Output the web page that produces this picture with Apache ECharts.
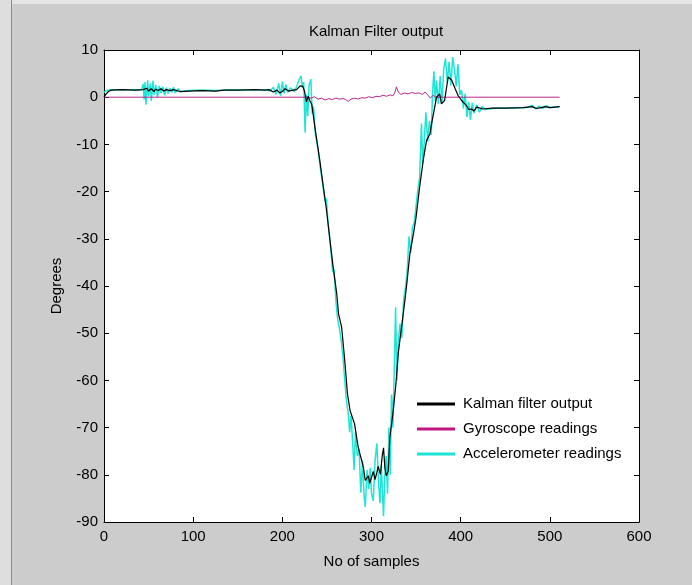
<!DOCTYPE html>
<html>
<head>
<meta charset="utf-8">
<title>Kalman Filter output</title>
<script src="https://cdn.jsdelivr.net/npm/echarts@6/dist/echarts.min.js"></script>
<style>
  html, body { margin: 0; padding: 0; background: #cccccc; }
  #chart { width: 692px; height: 585px; }
</style>
</head>
<body>
<div id="chart"></div>
<script>
// Sample indices and angle readings (degrees) for each trace
const kalmanX = [0, 2, 5, 8, 20, 35, 44, 46, 48, 50, 53, 56, 58, 61, 64, 67, 70, 74, 78, 85, 95, 110, 125, 135, 150, 170, 180, 185, 190, 194, 197, 200, 203, 207, 212, 216, 220, 223, 225, 227, 229, 231, 233, 236.5, 242, 246, 249.6, 253.4, 257, 261, 263, 266.5, 270, 273, 276, 277.5, 281, 285, 289, 291, 293, 295, 296.5, 298, 300, 302, 304, 306, 307.5, 310, 312, 313.5, 315, 316.5, 318.8, 320.6, 324.4, 327.4, 330, 333.7, 337.5, 340, 343, 347, 350, 354, 358, 361.7, 365.5, 368, 370, 373, 376.5, 378.4, 382, 386, 388, 390, 393.6, 397, 401, 406.6, 409, 412, 415, 418, 425, 435, 450, 470, 480, 485, 490, 495, 500, 511];
const kalmanY = [0.0, 0.6, 1.2, 1.5, 1.6, 1.5, 1.6, 1.2, 1.9, 1.3, 1.8, 1.2, 1.7, 1.4, 1.8, 1.3, 1.6, 1.4, 1.6, 1.2, 1.3, 1.4, 1.3, 1.5, 1.5, 1.6, 1.5, 1.6, 1.1, 1.5, 0.9, 1.2, 1.8, 1.3, 1.5, 1.6, 2.4, 2.3, 1.2, -1.0, 0.2, -0.8, -1.5, -6.3, -13.4, -19, -24, -30.3, -36, -41.6, -45.9, -48.7, -55.8, -62.8, -66.4, -66.0, -69.2, -74.1, -77, -78.5, -81.2, -81.5, -80.2, -81.8, -81.6, -79.3, -81.0, -79.5, -78.2, -79.9, -76, -74.3, -78.5, -80.2, -79.2, -72, -66.4, -60.7, -54.3, -48.7, -43, -38.8, -33.2, -29, -25.4, -19, -13.4, -9.2, -7.8, -5, -3, 0, 0.7, -1.4, -0.7, 4.3, 4.5, 3.6, 1.9, 0.4, -0.7, -1.8, -2.6, -2.5, -2.9, -2.1, -2.5, -2.3, -2.3, -2.2, -2.0, -2.4, -2.2, -2.0, -2.2, -2.0];

const gyroX = [0, 228, 232, 236, 240, 244, 248, 252, 256, 260, 264, 268, 271, 274, 277, 281, 285, 289, 293, 297, 301, 305, 309, 313, 317, 321, 324, 326, 328, 330, 333, 337, 341, 345, 349, 353, 357, 360, 363, 366, 369, 372, 511];
const gyroY = [0, 0, -0.2, 0.1, -0.4, -0.2, -0.6, -0.3, -0.5, -0.2, -0.4, -0.3, -0.5, -0.9, -0.4, -0.2, -0.4, -0.1, -0.2, 0.1, -0.1, 0.2, 0.1, 0.4, 0.2, 0.5, 0.3, 0.9, 2.2, 1.1, 0.6, 0.9, 0.7, 1.0, 0.8, 0.9, 0.6, 1.1, 0.5, -0.2, 0.4, 0, 0];

const accelX = [0, 3, 8, 20, 35, 42, 44, 45, 46, 47, 49, 50, 52, 53, 55, 56, 58, 60, 62, 64, 66, 68, 70, 72, 74, 76, 78, 80, 83, 86, 95, 110, 125, 140, 160, 180, 186, 190, 193, 196, 198, 200, 202, 204, 206, 209, 213, 216, 219, 221, 222.5, 224, 225.5, 227, 228.5, 230, 232, 233.5, 235, 237, 240, 243, 246, 248, 249.5, 251, 254, 256.5, 258, 260, 262, 264, 266, 268, 270, 272, 274, 275.5, 277, 279, 280.5, 282, 284, 286, 288, 290, 291.5, 293, 295, 297, 298.5, 300, 302, 304, 306, 308, 309.5, 311, 313.5, 315, 316.5, 318, 319.5, 321, 322.5, 324, 325.5, 327, 328.5, 330, 332, 334, 336, 338, 340, 342, 344, 346, 348, 350, 352, 354, 356, 357.5, 359, 361, 363, 365, 367, 368.5, 370, 371.5, 373, 375, 377, 379, 381, 383, 385, 387, 389, 391, 393, 395, 397, 399, 401, 403, 405, 407, 409, 411, 413, 415, 418, 421, 424, 428, 440, 460, 475, 480, 484, 488, 492, 496, 500, 511];
const accelY = [1.0, 1.4, 1.6, 1.6, 1.6, 1.5, 2.8, -0.5, 3.2, -1.6, 3.6, 0.2, 2.9, -0.8, 3.5, 0.5, 2.6, 0.0, 2.4, 0.9, 2.2, 0.4, 2.0, 0.8, 1.9, 1.0, 2.1, 0.9, 1.8, 1.2, 1.4, 1.5, 1.4, 1.6, 1.5, 1.6, 1.3, 2.1, 0.6, 2.9, 0.3, 3.3, 0.8, 2.7, 1.0, 2.0, 1.2, 2.2, 3.8, 4.5, 2.0, 3.2, -7.5, 0.5, -4, 2.5, 3.8, -3.5, -2.0, -7.8, -11, -15.5, -19.5, -22, -21.5, -26, -31.5, -37, -36.5, -43, -47, -49, -51.5, -55, -60, -64.5, -67, -71, -67.5, -73.5, -79, -71, -76, -74.5, -83.8, -77, -84, -86.8, -79, -83, -78.5, -84, -85.5, -77, -73.4, -82, -86, -78, -88.8, -80, -76, -84, -70, -80, -63, -70, -58, -44.5, -60, -52, -48, -51, -43, -40.5, -37, -29.5, -33, -27.5, -26.5, -23, -19.5, -17, -5.6, -14, -10, -3.2, -9.5, -5, -8, 1, 5.5, -0.8, 3.5, -1.5, 4.5, -1.0, 6.0, 8.2, 3.0, 7.5, 2.5, 8.5, 6.0, 2.3, 7.0, 0.5, 1.5, -2.4, 0.7, -4.2, -1.0, -4.8, -1.2, -3.4, -1.6, -3.2, -2.0, -2.6, -2.3, -2.3, -2.2, -1.7, -2.5, -1.9, -2.4, -1.8, -2.2, -2.0];

const seriesNames = ['Kalman filter output', 'Gyroscope readings', 'Accelerometer readings'];

const pairs = (xs, ys) => xs.map((x, i) => [x, ys[i]]);

const FONT = "'Liberation Sans', Arial, sans-serif";
const black = '#000000';

const chart = echarts.init(document.getElementById('chart'), null, { renderer: 'canvas' });

const boxAxis = (extra) => Object.assign({
  type: 'value',
  axisLine: { show: true, onZero: false, lineStyle: { color: black, width: 1 } },
  axisTick: { show: true, inside: true, length: 5, lineStyle: { color: black, width: 1 } },
  splitLine: { show: false }
}, extra);

chart.setOption({
  animation: false,
  backgroundColor: '#cccccc',
  graphic: [
    { type: 'rect', shape: { x: 0, y: 0, width: 11, height: 585 }, style: { fill: '#dedede' }, silent: true },
    { type: 'line', shape: { x1: 11.5, y1: 0, x2: 11.5, y2: 585 }, style: { stroke: '#8c8c8c', lineWidth: 1 }, silent: true },
    { type: 'rect', shape: { x: 12, y: 0, width: 680, height: 4 }, style: { fill: '#e4e4e4' }, silent: true }
  ],
  title: {
    text: 'Kalman Filter output',
    left: 371,
    top: 19,
    textAlign: 'center',
    textStyle: { fontFamily: FONT, fontSize: 15, fontWeight: 'normal', color: black }
  },
  grid: {
    left: 104, right: 53, top: 50, bottom: 63,
    show: true, backgroundColor: '#ffffff', borderWidth: 0
  },
  legend: {
    orient: 'vertical',
    left: 412,
    top: 390,
    icon: 'rect',
    itemWidth: 38,
    itemHeight: 3,
    itemGap: 7,
    data: seriesNames,
    textStyle: { fontFamily: FONT, fontSize: 15, color: black, padding: [0, 0, 0, 3], lineHeight: 18 }
  },
  xAxis: [
    boxAxis({
      position: 'bottom', min: 0, max: 600, interval: 100,
      name: 'No of samples', nameLocation: 'middle', nameGap: 32,
      nameTextStyle: { fontFamily: FONT, fontSize: 15, color: black },
      axisLabel: { color: black, fontFamily: FONT, fontSize: 15, margin: 7 }
    }),
    boxAxis({ position: 'top', min: 0, max: 600, interval: 100, axisLabel: { show: false } })
  ],
  yAxis: [
    boxAxis({
      position: 'left', min: -90, max: 10, interval: 10,
      name: 'Degrees', nameLocation: 'middle', nameGap: 40,
      nameTextStyle: { fontFamily: FONT, fontSize: 15, color: black },
      axisLabel: { color: black, fontFamily: FONT, fontSize: 15, margin: 6 }
    }),
    boxAxis({ position: 'right', min: -90, max: 10, interval: 10, axisLabel: { show: false } })
  ],
  series: [
    {
      name: 'Accelerometer readings', type: 'line', data: pairs(accelX, accelY),
      showSymbol: false, symbol: 'none', z: 2,
      lineStyle: { color: '#1de6d6', width: 1.5 }, itemStyle: { color: '#1de6d6' }
    },
    {
      name: 'Gyroscope readings', type: 'line', data: pairs(gyroX, gyroY),
      showSymbol: false, symbol: 'none', z: 3,
      lineStyle: { color: '#b8258e', width: 1 }, itemStyle: { color: '#c0157e' }
    },
    {
      name: 'Kalman filter output', type: 'line', data: pairs(kalmanX, kalmanY),
      showSymbol: false, symbol: 'none', z: 4,
      lineStyle: { color: black, width: 1.2 }, itemStyle: { color: black }
    }
  ]
});
</script>
</body>
</html>
